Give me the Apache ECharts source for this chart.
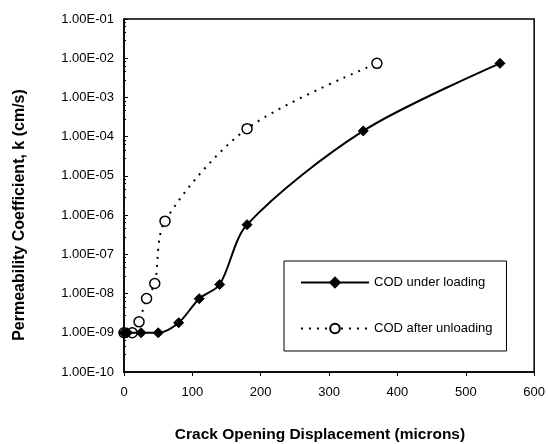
<!DOCTYPE html>
<html>
<head>
<meta charset="utf-8">
<script src="https://cdn.jsdelivr.net/npm/echarts@6/dist/echarts.min.js"></script>
<style>html,body{margin:0;padding:0;background:#fff}#c{width:548px;height:444px}</style>
</head>
<body>
<div id="c"></div>
<script>
var xTicks = [0, 100, 200, 300, 400, 500, 600];
var loadingX = [0, 5, 25, 50, 80, 110, 140, 180, 350, 550];
var loadingK = [1e-9, 1e-9, 1e-9, 1e-9, 1.8e-9, 7.4e-9, 1.7e-8, 5.7e-7, 1.4e-4, 7.4e-3];
var unloadX = [0, 12, 22, 33, 45, 60, 180, 370];
var unloadK = [1e-9, 1e-9, 1.9e-9, 7.5e-9, 1.8e-8, 7e-7, 1.6e-4, 7.4e-3];
var seriesNames = ['COD under loading', 'COD after unloading'];

function pairs(xs, ys) { return xs.map(function (x, i) { return [x, ys[i]]; }); }
function fmtE(v) {
  var e = Math.round(Math.log10(v));
  var m = v / Math.pow(10, e);
  var s = e < 0 ? '-' : '+';
  var a = Math.abs(e);
  return m.toFixed(2) + 'E' + s + (a < 10 ? '0' + a : a);
}
var font = 'Liberation Sans, Arial, sans-serif';
var chart = echarts.init(document.getElementById('c'));
chart.setOption({
  animation: false,
  backgroundColor: '#fff',
  grid: { left: 124, right: 10, top: 19, bottom: 72, show: true, borderColor: '#000', borderWidth: 1.5 },
  xAxis: {
    type: 'value', min: xTicks[0], max: xTicks[xTicks.length - 1], interval: 100,
    axisLine: { lineStyle: { color: '#000', width: 1.5 } },
    axisTick: { show: true, length: 4, lineStyle: { color: '#000' } },
    axisLabel: { color: '#000', fontFamily: font, fontSize: 13, margin: 14 },
    splitLine: { show: false }
  },
  yAxis: {
    type: 'log', logBase: 10, min: 1e-10, max: 1e-1, interval: 1,
    axisLine: { lineStyle: { color: '#000', width: 1.5 } },
    axisTick: { show: true, inside: true, length: 4, lineStyle: { color: '#000' } },
    minorTick: { show: true, splitNumber: 5, length: 2, lineStyle: { color: '#000' } },
    axisLabel: { color: '#000', fontFamily: font, fontSize: 13, margin: 10, formatter: fmtE },
    splitLine: { show: false }
  },
  legend: {
    data: seriesNames,
    orient: 'vertical', left: 284, top: 261,
    padding: [15, 14, 16, 16], itemGap: 33, itemWidth: 68, itemHeight: 12,
    borderColor: '#000', borderWidth: 1, backgroundColor: '#fff',
    textStyle: { color: '#000', fontFamily: font, fontSize: 13 }
  },
  graphic: [
    { type: 'text', x: 320, y: 435, style: { text: 'Crack Opening Displacement (microns)', fill: '#000', font: 'bold 15.5px ' + font, align: 'center', verticalAlign: 'middle' } },
    { type: 'text', x: 20, y: 215, rotation: Math.PI / 2, style: { text: 'Permeability Coefficient, k (cm/s)', fill: '#000', font: 'bold 16px ' + font, align: 'center', verticalAlign: 'middle' } }
  ],
  series: [
    {
      name: seriesNames[0], type: 'line', data: pairs(loadingX, loadingK), smooth: 0.3,
      symbol: 'diamond', symbolSize: 10,
      lineStyle: { color: '#000', width: 2 },
      itemStyle: { color: '#000', borderColor: '#000', borderWidth: 1 }, z: 3
    },
    {
      name: seriesNames[1], type: 'line', data: pairs(unloadX, unloadK), smooth: 0.3,
      symbol: 'circle', symbolSize: 10,
      lineStyle: { color: '#000', width: 2, type: [2, 6] },
      itemStyle: { color: '#fff', borderColor: '#000', borderWidth: 1.5 }, z: 2
    }
  ]
});
</script>
</body>
</html>
